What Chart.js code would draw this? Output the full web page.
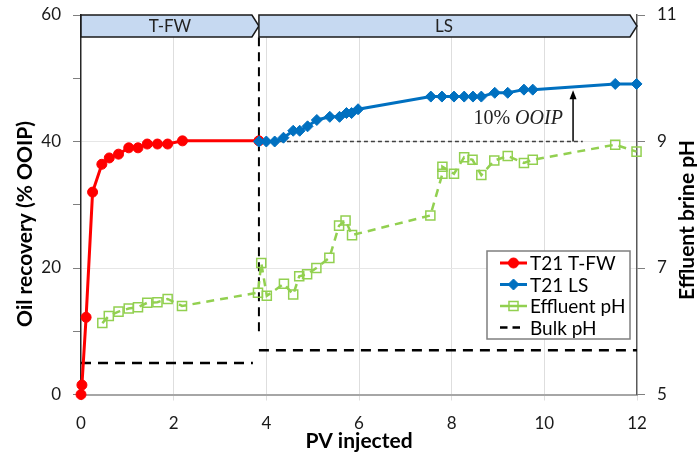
<!DOCTYPE html>
<html>
<head>
<meta charset="utf-8">
<script src="https://cdn.jsdelivr.net/npm/chart.js@4.4.0/dist/chart.umd.min.js"></script>
<style>
  html, body { margin: 0; padding: 0; background: #fff; }
  #wrap { width: 697px; height: 452px; }
</style>
</head>
<body>
<div id="wrap"><canvas id="recovery"></canvas></div>
<script>
// T21 T-FW oil recovery (% OOIP) vs PV injected
var tfw_pv  = [0, 0.02, 0.11, 0.25, 0.45, 0.61, 0.81, 1.03, 1.23, 1.43, 1.65, 1.87, 2.19, 3.84];
var tfw_rec = [0, 1.5, 12.2, 32.0, 36.4, 37.4, 38.0, 39.0, 39.0, 39.6, 39.6, 39.6, 40.1, 40.1];

// T21 LS oil recovery
var ls_pv  = [3.84, 4.0, 4.18, 4.37, 4.58, 4.72, 4.89, 5.09, 5.37, 5.58, 5.73, 5.84, 5.98,
              7.55, 7.79, 8.05, 8.27, 8.46, 8.64, 8.93, 9.21, 9.56, 9.75, 11.53, 11.99];
var ls_rec = [40.0, 40.0, 40.0, 40.6, 41.7, 41.7, 42.4, 43.4, 43.9, 43.9, 44.5, 44.5, 45.1,
              47.1, 47.1, 47.1, 47.1, 47.1, 47.1, 47.7, 47.7, 48.2, 48.2, 49.1, 49.1];

// effluent pH
var eff_pv = [0.46, 0.60, 0.81, 1.03, 1.23, 1.43, 1.65, 1.87, 2.18, 3.82, 3.89, 4.01, 4.38, 4.58,
              4.71, 4.88, 5.08, 5.36, 5.57, 5.71, 5.85, 7.54, 7.80, 7.80, 8.05, 8.27, 8.45, 8.64,
              8.92, 9.21, 9.56, 9.75, 11.53, 11.99];
var eff_ph = [6.13, 6.24, 6.31, 6.36, 6.38, 6.45, 6.46, 6.51, 6.40, 6.61, 7.08, 6.56, 6.75, 6.58,
              6.87, 6.90, 7.00, 7.16, 7.67, 7.75, 7.52, 7.83, 8.49, 8.60, 8.49, 8.75, 8.71, 8.47,
              8.70, 8.77, 8.66, 8.71, 8.95, 8.84];

// bulk pH of injected brine (null = break between floods)
var bulk_pv = [0, 3.71, 3.78, 3.84, 12];
var bulk_ph = [5.5, 5.5, null, 5.7, 5.7];

// flood phases (top banner)
var phaseNames = ['T-FW', 'LS'];
var phaseStart = [0, 3.84];
var phaseEnd   = [3.84, 12];

// switch line and incremental recovery marker
var switchPV = 3.84;
var switchRec = [10, 56.6];
var baseRec = 40;
var baseEndPV = 10.83;
var arrowPV = 10.62;
var arrowTop = 48.1;
var noteText = ['10% ', 'OOIP'];
var noteEndPV = 10.40;
var noteRec = 43.6;

var xTicks = [0, 2, 4, 6, 8, 10, 12];

function pts(xs, ys) {
  var out = [];
  for (var i = 0; i < xs.length; ++i) out.push({ x: xs[i], y: ys[i] });
  return out;
}

var FONT = 'Lato, Carlito, Calibri, sans-serif';
var NOTE = '20px "Liberation Serif", serif';

function drawMarker(ctx, style, cx, cy, r) {
  ctx.beginPath();
  if (style === 'circle') {
    ctx.arc(cx, cy, r, 0, Math.PI * 2);
  } else if (style === 'rectRot') {
    ctx.moveTo(cx - r, cy); ctx.lineTo(cx, cy - r); ctx.lineTo(cx + r, cy); ctx.lineTo(cx, cy + r);
    ctx.closePath();
  } else {
    var s = r * Math.SQRT1_2;
    ctx.rect(cx - s, cy - s, 2 * s, 2 * s);
  }
}

var decorPlugin = {
  id: 'decor',
  afterDatasetsDraw: function (chart) {
    var ctx = chart.ctx, area = chart.chartArea, x = chart.scales.x, y = chart.scales.y;
    ctx.save();

    // banner with flood names
    var top = area.top, bot = area.top + 22, mid = (top + bot) / 2, tip = 7;
    for (var i = 0; i < phaseNames.length; ++i) {
      var x0 = x.getPixelForValue(phaseStart[i]);
      var x1 = x.getPixelForValue(phaseEnd[i]);
      ctx.beginPath();
      ctx.moveTo(x0, top);
      ctx.lineTo(x1 - tip, top);
      ctx.lineTo(x1, mid);
      ctx.lineTo(x1 - tip, bot);
      ctx.lineTo(x0, bot);
      ctx.closePath();
      ctx.fillStyle = '#c6d9f1';
      ctx.fill();
      ctx.lineWidth = 1.5;
      ctx.strokeStyle = '#1a1a1a';
      ctx.stroke();
      ctx.fillStyle = '#222';
      ctx.font = '17px ' + FONT;
      ctx.textAlign = 'center';
      ctx.textBaseline = 'middle';
      ctx.fillText(phaseNames[i], (x0 + x1) / 2 - (i ? 4 : 0), mid + 1);
    }

    // arrow for incremental recovery
    var ax = x.getPixelForValue(arrowPV);
    var ay0 = y.getPixelForValue(baseRec), ay1 = y.getPixelForValue(arrowTop);
    ctx.strokeStyle = '#000';
    ctx.lineWidth = 1.5;
    ctx.beginPath();
    ctx.moveTo(ax, ay0);
    ctx.lineTo(ax, ay1 + 6);
    ctx.stroke();
    ctx.fillStyle = '#000';
    ctx.beginPath();
    ctx.moveTo(ax, ay1);
    ctx.lineTo(ax - 3.5, ay1 + 9);
    ctx.lineTo(ax + 3.5, ay1 + 9);
    ctx.closePath();
    ctx.fill();

    // "10% OOIP" note
    var nx = x.getPixelForValue(noteEndPV), ny = y.getPixelForValue(noteRec);
    ctx.textBaseline = 'middle';
    ctx.textAlign = 'left';
    ctx.font = 'italic ' + NOTE;
    var w2 = ctx.measureText(noteText[1]).width;
    ctx.font = NOTE;
    var w1 = ctx.measureText(noteText[0]).width;
    ctx.fillStyle = '#222';
    ctx.fillText(noteText[0], nx - w1 - w2, ny);
    ctx.font = 'italic ' + NOTE;
    ctx.fillText(noteText[1], nx - w2, ny);

    ctx.restore();
  },
  afterDraw: function (chart) {
    var ctx = chart.ctx;
    ctx.save();

    // vertical axis titles (both read bottom to top)
    ctx.font = 'bold 21px ' + FONT;
    ctx.fillStyle = '#000';
    ctx.textAlign = 'center';
    ctx.textBaseline = 'middle';
    ctx.translate(25, 224);
    ctx.rotate(-Math.PI / 2);
    ctx.fillText('Oil recovery (% OOIP)', 0, 0);
    ctx.setTransform(1, 0, 0, 1, 0, 0);
    ctx.translate(687, 220);
    ctx.rotate(-Math.PI / 2);
    ctx.fillText('Effluent brine pH', 0, 0);
    ctx.setTransform(1, 0, 0, 1, 0, 0);

    // legend box
    var lx = 487, ly = 251, lw = 143, lh = 88;
    ctx.fillStyle = '#fff';
    ctx.fillRect(lx, ly, lw, lh);
    ctx.strokeStyle = '#7f7f7f';
    ctx.lineWidth = 1.5;
    ctx.strokeRect(lx, ly, lw, lh);

    var items = chart.data.datasets.filter(function (d) { return d.inLegend; });
    items.forEach(function (d, k) {
      var ry = ly + 12 + k * 21.5;
      ctx.strokeStyle = d.borderColor;
      ctx.lineWidth = d.borderWidth;
      ctx.setLineDash(d.pointStyle ? [] : [7.5, 5]);
      ctx.beginPath();
      ctx.moveTo(lx + 13, ry);
      ctx.lineTo(lx + (d.pointStyle ? 40 : 34), ry);
      ctx.stroke();
      ctx.setLineDash([]);
      if (d.pointStyle) {
        drawMarker(ctx, d.pointStyle, lx + 26.5, ry, d.pointRadius);
        ctx.fillStyle = d.pointBackgroundColor;
        ctx.fill();
        ctx.lineWidth = d.pointBorderWidth;
        ctx.strokeStyle = d.pointBorderColor;
        ctx.stroke();
      }
      ctx.fillStyle = '#000';
      ctx.font = '19px ' + FONT;
      ctx.textAlign = 'left';
      ctx.textBaseline = 'middle';
      ctx.fillText(d.label, lx + 43, ry + 1);
    });
    ctx.restore();
  }
};

function fixPad(s) { s.paddingTop = 4; s.paddingBottom = 4; }

var ctx = document.getElementById('recovery').getContext('2d');
var chart = new Chart(ctx, {
  type: 'line',
  data: {
    datasets: [
      {
        label: 'T21 T-FW', inLegend: true, order: 1,
        data: pts(tfw_pv, tfw_rec), yAxisID: 'y',
        borderColor: '#ff0000', borderWidth: 3,
        pointStyle: 'circle', pointRadius: 5,
        pointBackgroundColor: '#ff0000', pointBorderColor: '#ff0000', pointBorderWidth: 1,
        clip: false
      },
      {
        label: 'T21 LS', inLegend: true, order: 0,
        data: pts(ls_pv, ls_rec), yAxisID: 'y',
        borderColor: '#0070c0', borderWidth: 3,
        pointStyle: 'rectRot', pointRadius: 5.5,
        pointBackgroundColor: '#0070c0', pointBorderColor: '#0070c0', pointBorderWidth: 1,
        clip: false
      },
      {
        label: 'Effluent pH', inLegend: true, order: 2,
        data: pts(eff_pv, eff_ph), yAxisID: 'y2',
        borderColor: '#92d050', borderWidth: 2.5, borderDash: [8, 6],
        pointStyle: 'rect', pointRadius: 6.4,
        pointBackgroundColor: 'rgba(255,255,255,0)', pointBorderColor: '#92d050', pointBorderWidth: 1.5,
        clip: false
      },
      {
        label: 'Bulk pH', inLegend: true, order: 3,
        data: pts(bulk_pv, bulk_ph), yAxisID: 'y2',
        borderColor: '#000', borderWidth: 2.5, borderDash: [10, 7],
        pointRadius: 0, spanGaps: false
      },
      {
        label: 'switch', order: 4,
        data: pts([switchPV, switchPV], switchRec), yAxisID: 'y',
        borderColor: '#000', borderWidth: 2, borderDash: [9, 6], pointRadius: 0
      },
      {
        label: 'base', order: 5,
        data: pts([switchPV, baseEndPV], [baseRec, baseRec]), yAxisID: 'y',
        borderColor: '#404040', borderWidth: 1.5, borderDash: [4, 3], pointRadius: 0
      }
    ]
  },
  options: {
    responsive: true,
    maintainAspectRatio: false,
    animation: false,
    layout: { padding: { top: 15, left: 0, right: 0, bottom: 0 } },
    plugins: { legend: { display: false }, tooltip: { enabled: false } },
    scales: {
      x: {
        type: 'linear', min: 0, max: 12,
        afterBuildTicks: function (s) { s.ticks = xTicks.map(function (v) { return { value: v }; }); },
        afterFit: function (s) { s.height = 57.5; s.paddingLeft = 4; s.paddingRight = 4; },
        border: { color: '#a6a6a6', width: 2 },
        grid: {
          color: function (c) { return (c.tick && c.tick.value > 0 && c.tick.value < 12) ? '#dedede' : 'rgba(0,0,0,0)'; },
          tickColor: '#dedede', tickLength: 6
        },
        ticks: { color: '#1a1a1a', font: { family: FONT, size: 17 }, padding: 13, maxRotation: 0 },
        title: { display: true, text: 'PV injected', color: '#000', font: { family: FONT, size: 21, weight: 'bold', lineHeight: 1.0 }, padding: { top: 0, bottom: 0 } }
      },
      y: {
        position: 'left', min: 0, max: 60,
        afterFit: function (s) { s.width = 81; fixPad(s); },
        border: { color: '#262626', width: 1.5 },
        grid: {
          color: function (c) { return (c.tick && c.tick.value % 20 === 0 && c.tick.value > 0 && c.tick.value < 60) ? '#e6e6e6' : 'rgba(0,0,0,0)'; },
          tickColor: '#7f7f7f', tickLength: 8
        },
        ticks: {
          stepSize: 10, color: '#1a1a1a', font: { family: FONT, size: 17 }, padding: 12,
          callback: function (v) { return v % 20 === 0 ? v : ''; }
        }
      },
      y2: {
        position: 'right', min: 5, max: 11,
        afterFit: function (s) { s.width = 60; fixPad(s); },
        border: { color: '#595959', width: 1.5 },
        grid: { drawOnChartArea: false, tickColor: '#7f7f7f', tickLength: 8 },
        ticks: { stepSize: 2, color: '#1a1a1a', font: { family: FONT, size: 17 }, padding: 12 }
      }
    }
  },
  plugins: [decorPlugin]
});
</script>
</body>
</html>
